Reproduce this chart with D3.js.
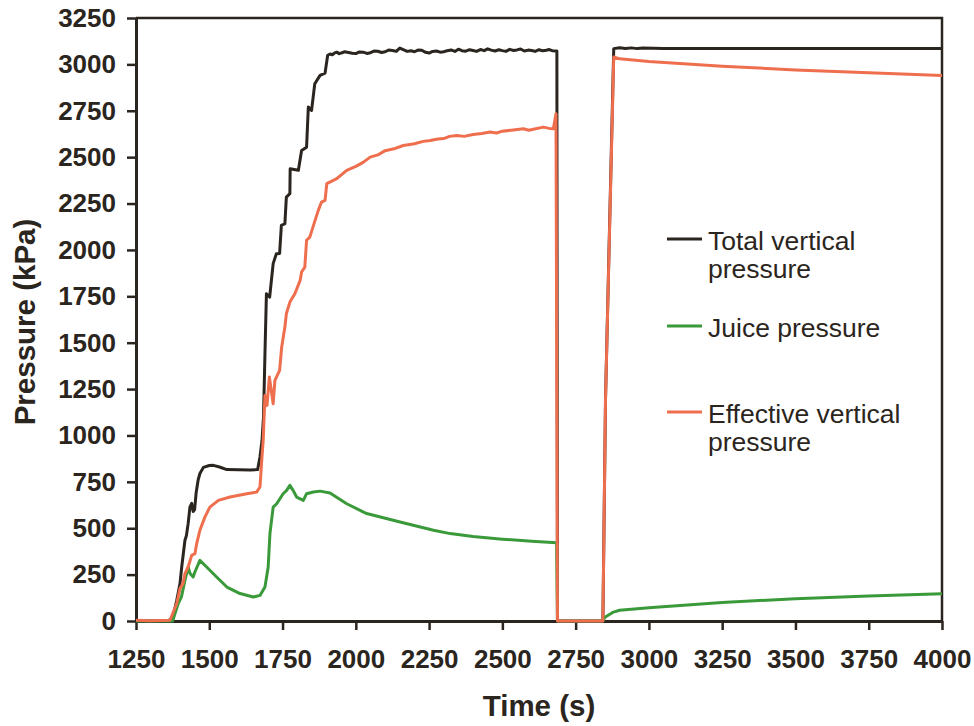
<!DOCTYPE html>
<html>
<head>
<meta charset="utf-8">
<script src="https://cdn.jsdelivr.net/npm/d3@7"></script>
<style>
  body { margin: 0; background: #fff; }
  svg { display: block; }
</style>
</head>
<body>
<div id="chart"></div>
<script>
// taille de la figure
var W = 974, H = 726;
var margin = {top: 18, right: 32, bottom: 105, left: 136};

// ticks
var xTicks = [1250, 1500, 1750, 2000, 2250, 2500, 2750, 3000, 3250, 3500, 3750, 4000];
var yTicks = [0, 250, 500, 750, 1000, 1250, 1500, 1750, 2000, 2250, 2500, 2750, 3000, 3250];

// series : [temps (s), pression (kPa)]
var totalPressure = [
  [1250, 0], [1360, 0], [1376, 20], [1389, 111], [1400, 200], [1406, 291], [1417, 435], [1422, 460],
  [1428, 526], [1434, 614], [1440, 634], [1445, 590], [1450, 600], [1455, 688], [1462, 760], [1468, 795],
  [1480, 828], [1500, 838], [1514, 839], [1535, 830], [1560, 816], [1600, 815], [1640, 814], [1665, 816],
  [1673, 884], [1680, 973], [1685, 1099], [1690, 1442], [1695, 1764], [1706, 1746], [1718, 1926],
  [1729, 1980], [1740, 1981], [1746, 2132], [1758, 2141], [1763, 2285], [1775, 2303], [1776, 2438],
  [1804, 2429], [1815, 2536], [1832, 2554], [1838, 2770], [1849, 2752], [1860, 2896], [1878, 2941],
  [1895, 2953], [1904, 3049], [1912, 3056], [1920, 3052], [1928, 3062], [1935, 3066], [1943, 3058],
  [1950, 3061], [1962, 3068], [1975, 3064], [1988, 3060], [2000, 3058], [2012, 3067], [2025, 3066],
  [2038, 3059], [2050, 3063], [2062, 3072], [2075, 3071], [2088, 3064], [2100, 3068], [2112, 3077],
  [2125, 3075], [2138, 3070], [2150, 3088], [2162, 3079], [2175, 3070], [2188, 3074], [2200, 3068],
  [2212, 3077], [2225, 3076], [2238, 3065], [2250, 3061], [2262, 3070], [2275, 3072], [2288, 3066],
  [2300, 3068], [2312, 3074], [2325, 3078], [2338, 3070], [2350, 3082], [2362, 3074], [2375, 3071],
  [2388, 3079], [2400, 3075], [2412, 3070], [2425, 3080], [2438, 3074], [2450, 3084], [2462, 3077],
  [2475, 3072], [2488, 3079], [2500, 3074], [2512, 3070], [2525, 3081], [2538, 3075], [2550, 3078],
  [2562, 3083], [2575, 3072], [2588, 3077], [2600, 3075], [2612, 3070], [2625, 3079], [2638, 3073],
  [2650, 3076], [2660, 3080], [2670, 3074], [2686, 3072],
  [2688, 0], [2843, 0], [2852, 1200], [2880, 3085], [2900, 3090], [2920, 3086], [2940, 3089],
  [2960, 3085], [2980, 3088], [3050, 3086], [3250, 3085], [3500, 3085], [3750, 3085], [4000, 3085]
];

var juicePressure = [
  [1250, 0], [1375, 0], [1394, 94], [1405, 130], [1417, 219], [1428, 291], [1434, 257], [1445, 237],
  [1451, 264], [1468, 327], [1491, 291], [1525, 237], [1560, 183], [1605, 148], [1650, 129], [1673, 138],
  [1690, 183], [1701, 291], [1707, 471], [1718, 614], [1730, 632], [1741, 659], [1752, 686], [1764, 704],
  [1775, 731], [1786, 704], [1798, 668], [1821, 650], [1832, 686], [1855, 695], [1878, 700], [1912, 690],
  [1969, 632], [2037, 579], [2151, 534], [2265, 489], [2322, 471], [2400, 455], [2500, 441], [2600, 430],
  [2685, 422], [2688, 0], [2843, 0], [2850, 20], [2879, 48], [2900, 58], [3000, 72], [3250, 100],
  [3500, 120], [3750, 135], [4000, 147]
];

var effectivePressure = [
  [1250, 4], [1300, 2], [1366, 4], [1389, 94], [1400, 175], [1410, 201], [1417, 255], [1428, 291],
  [1440, 354], [1451, 363], [1457, 417], [1468, 489], [1485, 560], [1502, 614], [1531, 650], [1571, 668],
  [1628, 686], [1662, 695], [1673, 722], [1679, 866], [1684, 974], [1690, 1216], [1697, 1162],
  [1705, 1315], [1718, 1171], [1724, 1297], [1740, 1351], [1747, 1476], [1758, 1584], [1763, 1656],
  [1775, 1719], [1792, 1764], [1810, 1836], [1815, 1881], [1826, 1907], [1832, 2052], [1843, 2069],
  [1861, 2159], [1872, 2213], [1883, 2258], [1895, 2267], [1901, 2357], [1935, 2384], [1969, 2429],
  [2000, 2450], [2025, 2472], [2049, 2500], [2075, 2512], [2100, 2535], [2130, 2545], [2162, 2563],
  [2200, 2572], [2230, 2585], [2254, 2590], [2280, 2598], [2300, 2600], [2320, 2612], [2345, 2617],
  [2370, 2612], [2400, 2622], [2430, 2628], [2458, 2635], [2480, 2630], [2500, 2640], [2530, 2645],
  [2572, 2653], [2590, 2645], [2610, 2652], [2640, 2662], [2660, 2655],
  [2674, 2653], [2683, 2734], [2688, 0], [2843, 0], [2852, 1200], [2880, 3040], [2900, 3030],
  [3000, 3015], [3250, 2990], [3500, 2970], [3750, 2955], [4000, 2940]
];

var series = [
  {name: "Total vertical pressure", values: totalPressure, color: "#2b2520"},
  {name: "Juice pressure", values: juicePressure, color: "#3a9a3a"},
  {name: "Effective vertical pressure", values: effectivePressure, color: "#ee6e4d"}
];

var legendItems = [
  {lines: ["Total vertical", "pressure"], color: "#2b2520", y: 239},
  {lines: ["Juice pressure"], color: "#3a9a3a", y: 326},
  {lines: ["Effective vertical", "pressure"], color: "#ee6e4d", y: 412}
];

var axisColor = "#2b2520";

var svg = d3.select("#chart")
  .append("svg")
  .attr("width", W)
  .attr("height", H);

var x = d3.scaleLinear().domain([1250, 4000]).range([margin.left, W - margin.right]);
var y = d3.scaleLinear().domain([0, 3250]).range([H - margin.bottom, margin.top]);

// cadre haut et droite
svg.append("path")
  .attr("d", `M${x(1250)},${y(3250)}H${x(4000)}V${y(0)}`)
  .attr("fill", "none")
  .attr("stroke", axisColor)
  .attr("stroke-width", 2.5);

// axes
var xAxis = svg.append("g")
  .attr("transform", `translate(0,${y(0)})`)
  .call(d3.axisBottom(x).tickValues(xTicks).tickFormat(d3.format("d")).tickSize(9).tickSizeOuter(0).tickPadding(20));
var yAxis = svg.append("g")
  .attr("transform", `translate(${x(1250)},0)`)
  .call(d3.axisLeft(y).tickValues(yTicks).tickFormat(d3.format("d")).tickSize(9).tickSizeOuter(0).tickPadding(11));

[xAxis, yAxis].forEach(function(a) {
  a.select(".domain").attr("stroke", axisColor).attr("stroke-width", 3);
  a.selectAll(".tick line").attr("stroke", axisColor).attr("stroke-width", 2.5);
  a.selectAll(".tick text")
    .attr("fill", axisColor)
    .attr("font-family", "'Liberation Sans', Arial, sans-serif")
    .attr("font-weight", "bold")
    .attr("font-size", 26);
});

// courbes (par-dessus les axes)
var line = d3.line().x(d => x(d[0])).y(d => y(d[1]));
svg.append("g")
  .selectAll("path")
  .data(series)
  .enter()
  .append("path")
    .attr("d", d => line(d.values))
    .attr("fill", "none")
    .attr("stroke", d => d.color)
    .attr("stroke-width", 3)
    .attr("stroke-linejoin", "round");

// titres des axes
svg.append("text")
  .attr("x", (x(1250) + x(4000)) / 2)
  .attr("y", 716)
  .attr("text-anchor", "middle")
  .attr("font-family", "'Liberation Sans', Arial, sans-serif")
  .attr("font-weight", "bold")
  .attr("font-size", 29.5)
  .attr("fill", axisColor)
  .text("Time (s)");

svg.append("text")
  .attr("transform", "translate(35,322) rotate(-90)")
  .attr("text-anchor", "middle")
  .attr("font-family", "'Liberation Sans', Arial, sans-serif")
  .attr("font-weight", "bold")
  .attr("font-size", 29.5)
  .attr("fill", axisColor)
  .text("Pressure (kPa)");

// legende
var leg = svg.append("g")
  .selectAll("g")
  .data(legendItems)
  .enter()
  .append("g");
leg.append("line")
  .attr("x1", 667).attr("x2", 702)
  .attr("y1", d => d.y).attr("y2", d => d.y)
  .attr("stroke", d => d.color)
  .attr("stroke-width", 3);
leg.append("text")
  .attr("x", 708)
  .attr("y", d => d.y + 11)
  .attr("font-family", "'Liberation Sans', Arial, sans-serif")
  .attr("font-size", 26.5)
  .attr("fill", axisColor)
  .selectAll("tspan")
  .data(d => d.lines)
  .enter()
  .append("tspan")
    .attr("x", 708)
    .attr("dy", (d, i) => i === 0 ? 0 : 28)
    .text(d => d);
</script>
</body>
</html>
